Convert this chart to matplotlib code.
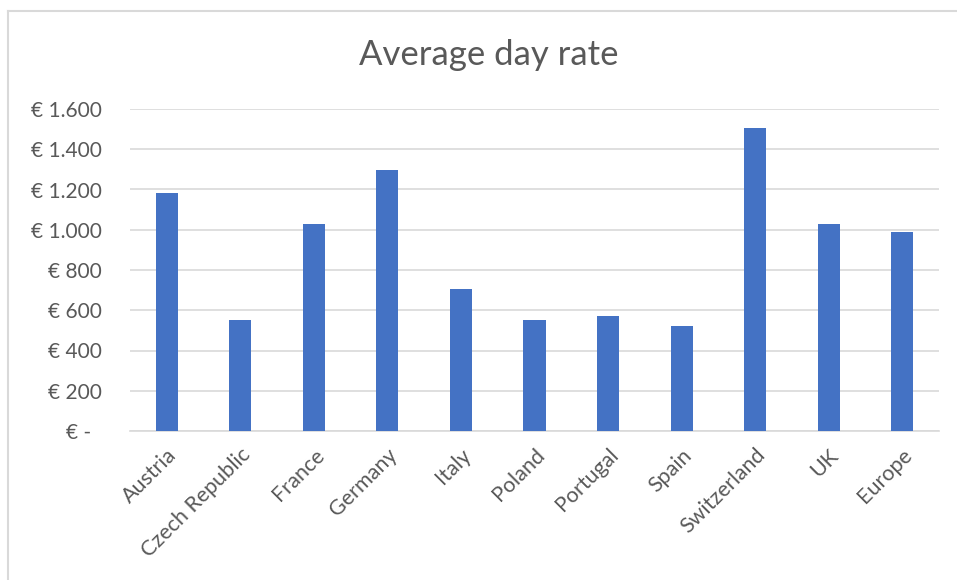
import matplotlib
matplotlib.use("Agg")
import matplotlib.pyplot as plt
from matplotlib.lines import Line2D
from matplotlib.ticker import FuncFormatter, MultipleLocator
from matplotlib.transforms import ScaledTranslation

countries = ["Austria", "Czech Republic", "France", "Germany", "Italy", "Poland",
             "Portugal", "Spain", "Switzerland", "UK", "Europe"]
day_rate = [1185, 550, 1028, 1295, 707, 550, 570, 520, 1504, 1028, 987]

plt.rcParams["font.family"] = ["Lato", "DejaVu Sans"]

fig = plt.figure(figsize=(9.57, 5.8), dpi=100)
ax = fig.add_axes([130 / 957, 1 - 431 / 580, (939 - 130) / 957, (431 - 109) / 580])

x = range(len(countries))
ax.bar(x, day_rate, width=0.3, color="#4472C4", zorder=3)

ax.set_xlim(-0.5, len(countries) - 0.5)
ax.set_ylim(0, 1600)
ax.yaxis.set_major_locator(MultipleLocator(200))


def euro(v, pos):
    if v == 0:
        return "€ -  "
    return "€ " + f"{int(v):,}".replace(",", ".")


ax.yaxis.set_major_formatter(FuncFormatter(euro))
ax.set_xticks(list(x))
ax.set_xticklabels(countries, rotation=45, ha="right", rotation_mode="anchor",
                   fontsize=15.5)
shift = ScaledTranslation(-10 / 100, 0, fig.dpi_scale_trans)
for lab in ax.get_xticklabels():
    lab.set_transform(lab.get_transform() + shift)

ax.grid(axis="y", color="#D9D9D9", linewidth=1.2, zorder=0)
for side in ["top", "right", "left"]:
    ax.spines[side].set_visible(False)
ax.spines["bottom"].set_color("#D9D9D9")
ax.spines["bottom"].set_linewidth(1.2)
ax.tick_params(axis="both", length=0, colors="#595959")
ax.tick_params(axis="y", pad=20, labelsize=15)
ax.tick_params(axis="x", pad=10)

fig.text(0.511, 1 - 55 / 580, "Average day rate", ha="center", va="center",
         fontsize=25, color="#595959")

# chart area frame (left and top edges)
fig.add_artist(Line2D([8 / 957, 8 / 957], [0, 1 - 11 / 580], transform=fig.transFigure,
                      color="#D9D9D9", linewidth=1.5))
fig.add_artist(Line2D([8 / 957, 1], [1 - 11 / 580, 1 - 11 / 580], transform=fig.transFigure,
                      color="#D9D9D9", linewidth=1.5))

fig.savefig("out.png", dpi=100, facecolor="white")
